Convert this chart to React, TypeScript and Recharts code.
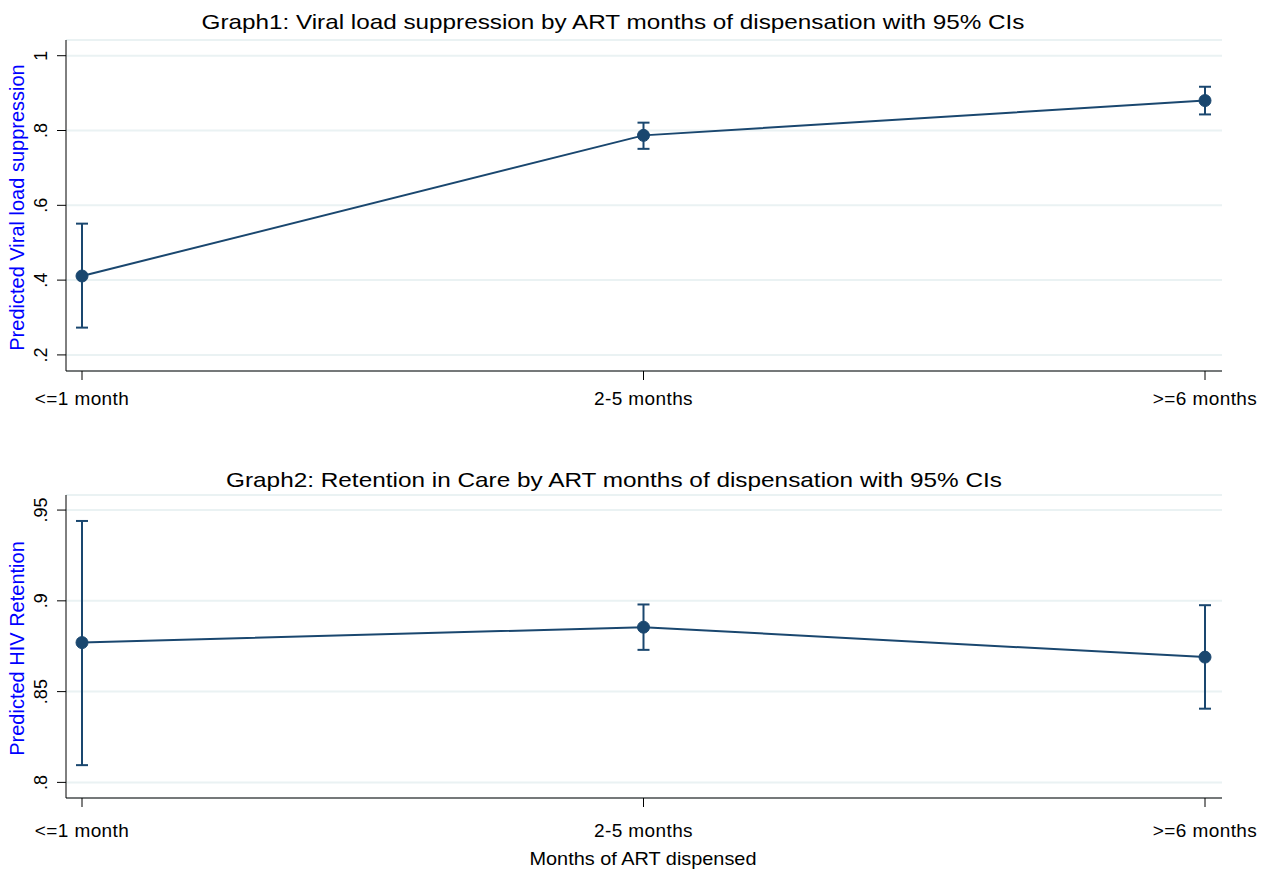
import React from 'react';
import { LineChart, Line, XAxis, YAxis, CartesianGrid, ErrorBar } from 'recharts';

const categories = ['<=1 month', '2-5 months', '>=6 months'];

const viralEstimate = [0.411, 0.787, 0.880];
const viralLower = [0.273, 0.751, 0.843];
const viralUpper = [0.551, 0.821, 0.917];
const viralTicks = [0.2, 0.4, 0.6, 0.8, 1];

const retentionEstimate = [0.877, 0.8855, 0.869];
const retentionLower = [0.8095, 0.873, 0.8406];
const retentionUpper = [0.944, 0.898, 0.8976];
const retentionTicks = [0.8, 0.85, 0.9, 0.95];

const NAVY = '#1a476f';
const GRID = '#eaf2f3';
const FONT = '"Liberation Sans", Arial, Helvetica, sans-serif';

const buildRows = (est: number[], lo: number[], hi: number[]) =>
    categories.map((cat, i) => ({
        cat,
        value: est[i],
        err: [est[i] - lo[i], hi[i] - est[i]],
    }));

const viralRows = buildRows(viralEstimate, viralLower, viralUpper);
const retentionRows = buildRows(retentionEstimate, retentionLower, retentionUpper);

const fmt = (v: number) => String(v).replace(/^0\./, '.');

const RotatedTick = (props: any) => {
    const { x, y, payload } = props;
    return (
        <text
            x={x}
            y={y}
            transform={`rotate(-90, ${x}, ${y})`}
            textAnchor="middle"
            fontSize={18}
            fontFamily={FONT}
            fill="#000"
        >
            {fmt(payload.value)}
        </text>
    );
};

const CatTick = (props: any) => {
    const { x, y, payload } = props;
    return (
        <text
            x={x}
            y={y + 13}
            textAnchor="middle"
            fontSize={19}
            letterSpacing={0.4}
            fontFamily={FONT}
            fill="#000"
        >
            {payload.value}
        </text>
    );
};

const YTitle = (props: any) => {
    const { viewBox, text } = props;
    const x = viewBox.x + 24;
    const y = viewBox.y + viewBox.height / 2 + 2;
    return (
        <text
            x={x}
            y={y}
            transform={`rotate(-90, ${x}, ${y})`}
            textAnchor="middle"
            fontSize={20}
            fontFamily={FONT}
            fill="#0000ff"
        >
            {text}
        </text>
    );
};

interface PanelProps {
    rows: any[];
    domain: [number, number];
    ticks: number[];
    yTitle: string;
    top: number;
    bottomSpace: number;
    xTickMargin: number;
}

const Panel: React.FC<PanelProps> = ({ rows, domain, ticks, yTitle, top, bottomSpace, xTickMargin }) => (
    <LineChart
        width={1266}
        height={435}
        data={rows}
        margin={{ top, right: 44, bottom: 0, left: 0 }}
    >
        <CartesianGrid vertical={false} stroke={GRID} strokeWidth={2} />
        <XAxis
            dataKey="cat"
            height={bottomSpace}
            padding={{ left: 16, right: 17 }}
            stroke="#000"
            tickSize={9}
            tickMargin={xTickMargin}
            tick={<CatTick />}
            interval={0}
        />
        <YAxis
            width={66}
            domain={domain}
            ticks={ticks}
            type="number"
            stroke="#000"
            tickSize={9}
            tickMargin={10}
            tick={<RotatedTick />}
            label={<YTitle text={yTitle} />}
        />
        <Line
            dataKey="value"
            stroke={NAVY}
            strokeWidth={2}
            dot={{ r: 6, fill: NAVY, stroke: NAVY, strokeWidth: 1 }}
            activeDot={false}
            isAnimationActive={false}
        >
            <ErrorBar dataKey="err" width={6} stroke={NAVY} strokeWidth={2} isAnimationActive={false} />
        </Line>
    </LineChart>
);

export default function App() {
    return (
        <div style={{ position: 'absolute', left: 0, top: 0, width: 1266, height: 870, background: '#fff' }}>
            <svg width={1266} height={870} style={{ position: 'absolute', left: 0, top: 0 }}>
                <text x={613} y={29} textAnchor="middle" fontSize={21} fontFamily={FONT} fill="#000"
                    textLength={823} lengthAdjust="spacingAndGlyphs">
                    Graph1: Viral load suppression by ART months of dispensation with 95% CIs
                </text>
                <text x={614} y={487} textAnchor="middle" fontSize={21} fontFamily={FONT} fill="#000"
                    textLength={776} lengthAdjust="spacingAndGlyphs">
                    Graph2: Retention in Care by ART months of dispensation with 95% CIs
                </text>
                <text x={643} y={865} textAnchor="middle" fontSize={19} fontFamily={FONT} fill="#000"
                    textLength={227} lengthAdjust="spacingAndGlyphs">
                    Months of ART dispensed
                </text>
            </svg>
            <div style={{ position: 'absolute', left: 0, top: 0 }}>
                <Panel
                    rows={viralRows}
                    domain={[0.157, 1.042]}
                    ticks={viralTicks}
                    yTitle="Predicted Viral load suppression"
                    top={40}
                    bottomSpace={64}
                    xTickMargin={12}
                />
            </div>
            <div style={{ position: 'absolute', left: 0, top: 435 }}>
                <Panel
                    rows={retentionRows}
                    domain={[0.7914, 0.9583]}
                    ticks={retentionTicks}
                    yTitle="Predicted HIV Retention"
                    top={60}
                    bottomSpace={72}
                    xTickMargin={17}
                />
            </div>
        </div>
    );
}
